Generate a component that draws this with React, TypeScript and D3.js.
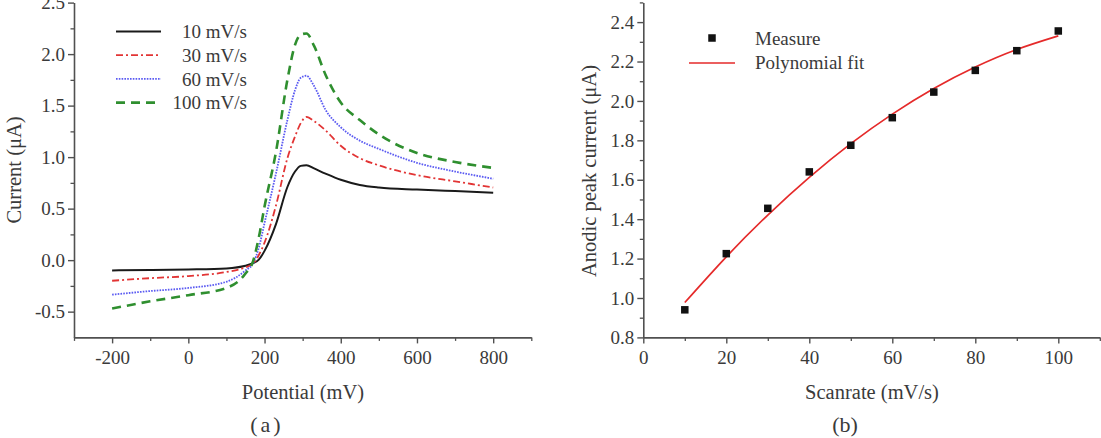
import React, { useEffect, useRef } from "react";
import * as d3 from "d3";

// (a) sweep curves: current (uA) at each potential (mV)
const potentials = [-200, -100, 0, 100, 150, 170, 185, 200, 230, 260, 280, 295, 310, 330, 360, 400, 450, 500, 600, 700, 800];
const current10 = [-0.1, -0.095, -0.09, -0.08, -0.055, -0.03, 0.005, 0.09, 0.35, 0.71, 0.86, 0.915, 0.922, 0.89, 0.84, 0.78, 0.73, 0.705, 0.685, 0.67, 0.655];
const current30 = [-0.2, -0.175, -0.155, -0.115, -0.07, -0.035, 0.05, 0.17, 0.53, 0.99, 1.2, 1.33, 1.39, 1.35, 1.26, 1.11, 0.99, 0.92, 0.825, 0.765, 0.705];
const current60 = [-0.335, -0.3, -0.27, -0.21, -0.1, -0.03, 0.12, 0.36, 0.84, 1.36, 1.65, 1.77, 1.79, 1.69, 1.46, 1.29, 1.16, 1.08, 0.945, 0.86, 0.79];
const current100 = [-0.47, -0.4, -0.34, -0.27, -0.13, -0.01, 0.22, 0.52, 1.05, 1.75, 2.09, 2.19, 2.2, 2.08, 1.8, 1.53, 1.36, 1.22, 1.04, 0.953, 0.895];
const sweepLabels = ["10 mV/s", "30 mV/s", "60 mV/s", "100 mV/s"];
const potentialTicks = [-200, 0, 200, 400, 600, 800];
const currentTicks = [-0.5, 0, 0.5, 1.0, 1.5, 2.0, 2.5];

// (b) anodic peak current vs scan rate
const scanRates = [10, 20, 30, 40, 50, 60, 70, 80, 90, 100];
const peakCurrents = [0.94, 1.225, 1.455, 1.64, 1.775, 1.915, 2.045, 2.155, 2.255, 2.355];
const fitCurrents = [0.977, 1.209, 1.421, 1.612, 1.783, 1.933, 2.063, 2.172, 2.261, 2.33];
const scanRateTicks = [0, 20, 40, 60, 80, 100];
const peakTicks = [0.8, 1.0, 1.2, 1.4, 1.6, 1.8, 2.0, 2.2, 2.4];

const FONT = '"Liberation Serif", "Times New Roman", serif';
const AXIS = "#505050";
const TEXT = "#3a3a3a";

const seriesStyle = [
  { color: "#1a1a1a", width: 2, dash: null },
  { color: "#e23434", width: 1.8, dash: "7,3,2,3" },
  { color: "#5b5bf2", width: 1.8, dash: "1.6,1.2" },
  { color: "#2f8f2f", width: 2.6, dash: "9,6" },
];

// plain hyphen for negatives, as the axis labels are typeset
const intFmt = (d: any) => String(d);
const oneDec = (d: any) => d3.format(".1f")(d).replace("−", "-");

function styleAxis(g: any, size = 19) {
  g.attr("font-family", FONT).attr("font-size", size);
  g.select(".domain").attr("stroke", AXIS).attr("stroke-width", 1.6);
  g.selectAll(".tick line").attr("stroke", AXIS).attr("stroke-width", 1.4);
  g.selectAll(".tick text").attr("fill", TEXT);
}

function minorAxis(g: any, axis: any) {
  g.call(axis.tickSize(3.5).tickFormat(() => "").tickSizeOuter(0));
  g.select(".domain").remove();
  g.selectAll(".tick line").attr("stroke", AXIS).attr("stroke-width", 1.3);
}

export default function App() {
  const ref = useRef<SVGSVGElement>(null);

  useEffect(() => {
    const svg = d3.select(ref.current);
    svg.selectAll("*").remove();

    // ---------- panel (a) ----------
    const xA = d3.scaleLinear().domain([-300, 900]).range([74, 531.3]);
    const yA = d3.scaleLinear().domain([-0.75, 2.5]).range([337.4, 2.6]);
    const a = svg.append("g");

    a.append("g")
      .attr("transform", `translate(0,${yA(-0.75)})`)
      .call((g: any) => minorAxis(g, d3.axisBottom(xA).tickValues(d3.range(-300, 901, 200))));
    a.append("g")
      .attr("transform", `translate(0,${yA(-0.75)})`)
      .call(d3.axisBottom(xA).tickValues(potentialTicks).tickSize(6).tickPadding(7).tickSizeOuter(0).tickFormat(intFmt))
      .call((g: any) => styleAxis(g));

    a.append("g")
      .attr("transform", `translate(${xA(-300)},0)`)
      .call((g: any) => minorAxis(g, d3.axisLeft(yA).tickValues(d3.range(-0.25, 2.3, 0.5))));
    a.append("g")
      .attr("transform", `translate(${xA(-300)},0)`)
      .call(d3.axisLeft(yA).tickValues(currentTicks).tickSize(6).tickPadding(3).tickSizeOuter(0).tickFormat(oneDec))
      .call((g: any) => styleAxis(g));

    const curves = [current10, current30, current60, current100];
    curves.forEach((vals, k) => {
      const st = seriesStyle[k];
      const line = d3
        .line<number>()
        .x((_, i) => xA(potentials[i]))
        .y((d) => yA(d))
        .curve(d3.curveMonotoneX);
      a.append("path")
        .attr("d", line(vals))
        .attr("fill", "none")
        .attr("stroke", st.color)
        .attr("stroke-width", st.width)
        .attr("stroke-dasharray", st.dash);
    });

    // legend (a)
    const legA = a.append("g");
    sweepLabels.forEach((label, k) => {
      const st = seriesStyle[k];
      const y = 31.5 + k * 23.7;
      legA.append("line")
        .attr("x1", 116).attr("x2", 161).attr("y1", y).attr("y2", y)
        .attr("stroke", st.color).attr("stroke-width", st.width)
        .attr("stroke-dasharray", st.dash);
      legA.append("text")
        .attr("x", 247).attr("y", y).attr("dy", "0.35em")
        .attr("text-anchor", "end")
        .attr("font-family", FONT).attr("font-size", 19).attr("fill", TEXT)
        .text(label);
    });

    a.append("text")
      .attr("x", 303).attr("y", 399)
      .attr("text-anchor", "middle")
      .attr("font-family", FONT).attr("font-size", 20.5).attr("fill", TEXT)
      .text("Potential (mV)");
    a.append("text")
      .attr("transform", "translate(20.5,170) rotate(-90)")
      .attr("text-anchor", "middle")
      .attr("font-family", FONT).attr("font-size", 20.5).attr("fill", TEXT)
      .text("Current (μA)");
    a.append("text")
      .attr("x", 267).attr("y", 432)
      .attr("text-anchor", "middle")
      .attr("letter-spacing", 3)
      .attr("font-family", FONT).attr("font-size", 22).attr("fill", TEXT)
      .text("(a)");

    // ---------- panel (b) ----------
    const xB = d3.scaleLinear().domain([0, 110]).range([643.3, 1099.8]);
    const yB = d3.scaleLinear().domain([0.8, 2.5]).range([337.4, 2.4]);
    const b = svg.append("g");

    b.append("g")
      .attr("transform", `translate(0,${yB(0.8)})`)
      .call((g: any) => minorAxis(g, d3.axisBottom(xB).tickValues(d3.range(10, 111, 20))));
    b.append("g")
      .attr("transform", `translate(0,${yB(0.8)})`)
      .call(d3.axisBottom(xB).tickValues(scanRateTicks).tickSize(6).tickPadding(7).tickSizeOuter(0).tickFormat(intFmt))
      .call((g: any) => styleAxis(g));

    b.append("g")
      .attr("transform", `translate(${xB(0)},0)`)
      .call((g: any) => minorAxis(g, d3.axisLeft(yB).tickValues(d3.range(0.9, 2.51, 0.2))));
    b.append("g")
      .attr("transform", `translate(${xB(0)},0)`)
      .call(d3.axisLeft(yB).tickValues(peakTicks).tickSize(6).tickPadding(3).tickSizeOuter(0).tickFormat(oneDec))
      .call((g: any) => styleAxis(g));

    const fitLine = d3
      .line<number>()
      .x((_, i) => xB(scanRates[i]))
      .y((d) => yB(d))
      .curve(d3.curveNatural);
    b.append("path")
      .attr("d", fitLine(fitCurrents))
      .attr("fill", "none")
      .attr("stroke", "#e52a2a")
      .attr("stroke-width", 1.7);

    const sq = 7.5;
    b.selectAll("rect.pt")
      .data(peakCurrents)
      .join("rect")
      .attr("class", "pt")
      .attr("x", (_, i) => xB(scanRates[i]) - sq / 2)
      .attr("y", (d) => yB(d) - sq / 2)
      .attr("width", sq)
      .attr("height", sq)
      .attr("fill", "#111");

    // legend (b)
    b.append("rect").attr("x", 712 - sq / 2).attr("y", 38 - sq / 2).attr("width", sq).attr("height", sq).attr("fill", "#111");
    b.append("text")
      .attr("x", 755).attr("y", 38).attr("dy", "0.35em")
      .attr("font-family", FONT).attr("font-size", 19).attr("fill", TEXT)
      .text("Measure");
    b.append("line").attr("x1", 689).attr("x2", 735).attr("y1", 63).attr("y2", 63)
      .attr("stroke", "#e52a2a").attr("stroke-width", 1.7);
    b.append("text")
      .attr("x", 755).attr("y", 62).attr("dy", "0.35em")
      .attr("font-family", FONT).attr("font-size", 19).attr("fill", TEXT)
      .text("Polynomial fit");

    b.append("text")
      .attr("x", 872).attr("y", 399)
      .attr("text-anchor", "middle")
      .attr("font-family", FONT).attr("font-size", 20.5).attr("fill", TEXT)
      .text("Scanrate (mV/s)");
    b.append("text")
      .attr("transform", "translate(596,171) rotate(-90)")
      .attr("text-anchor", "middle")
      .attr("font-family", FONT).attr("font-size", 20.5).attr("fill", TEXT)
      .text("Anodic peak current (μA)");
    b.append("text")
      .attr("x", 845).attr("y", 432)
      .attr("text-anchor", "middle")
      .attr("font-family", FONT).attr("font-size", 22).attr("fill", TEXT)
      .text("(b)");
  }, []);

  return (
    <svg
      ref={ref}
      width={1101}
      height={438}
      style={{ position: "absolute", left: 0, top: 0, background: "#fff" }}
    />
  );
}
